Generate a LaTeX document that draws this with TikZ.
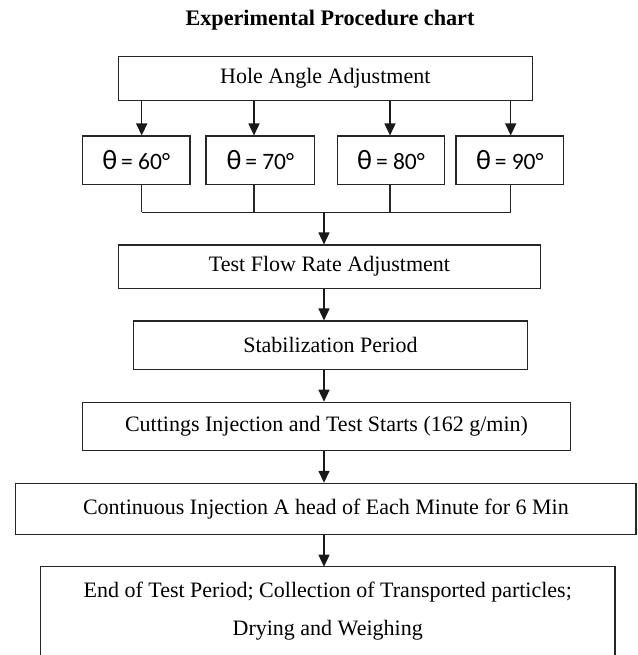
\documentclass[tikz,border=0pt]{standalone}
\usepackage{fontspec}
\setmainfont{Liberation Serif}
\newfontfamily\thetafont{Carlito}
\usetikzlibrary{arrows.meta}

\begin{document}
\begin{tikzpicture}[x=1pt,y=-1pt,
        box/.style={draw=black!85,line width=1.2pt,rectangle,inner sep=0pt,font=\fontsize{22}{38}\selectfont},
        arr/.style={draw=black!90,line width=1.5pt,-{Triangle[length=12pt,width=11pt]}}]
        \useasboundingbox (0,0) rectangle (637,655);
        \node (title) at (330,20) {\fontsize{22.2}{26}\selectfont\bfseries Experimental Procedure chart};

        \node[box,minimum width=414pt,minimum height=44pt] (hole) at (325.3,78.7) {Hole Angle Adjustment};
        \foreach \n/\x/\w/\a in {t1/136.2/107.7/60,t2/260.3/108.5/70,t3/391/107/80,t4/509.8/107.7/90}
        \node[box,minimum width=\w pt,minimum height=48.3pt,font=\thetafont\fontsize{23.5}{25}\selectfont] (\n) at (\x,160.2)
            {{\fontsize{28}{28}\selectfont θ}\,= \a°\hspace{12pt}};

        \node[box,minimum width=422.4pt,minimum height=43.3pt] (flow) at (329.5,266.7) {Test Flow Rate Adjustment};
        \node[box,minimum width=394.2pt,minimum height=48.3pt] (stab) at (330.4,345.2) {Stabilization Period};
        \node[box,minimum width=488.4pt,minimum height=48.4pt] (cut) at (326.5,426.5) {Cuttings Injection and Test Starts (162 g/min)};
        \node[box,minimum width=620.3pt,minimum height=51.2pt] (cont) at (325.9,509) {Continuous Injection A head of Each Minute for 6 Min};
        \node[box,draw=none,align=center,minimum width=573.3pt,minimum height=88pt] (final) at (327.7,611.3)
            {End of Test Period; Collection of Transported particles;\\ Drying and Weighing};
        % open at the bottom
        \draw[draw=black!85,line width=1.2pt] (final.south west) -- (final.north west) -- (final.north east) -- (final.south east);

        \coordinate (join) at (324,212.3);
        \foreach \n/\d in {t1/5.5,t2/-6.3,t3/-1,t4/0.9}{
            \draw[arr] ([xshift=\d pt]\n.north |- hole.south) -- ([xshift=\d pt]\n.north);
            \draw[draw=black!85,line width=1.2pt] ([xshift=\d pt]\n.south) -- ([xshift=\d pt]\n.south |- join);
        }
        \draw[draw=black!85,line width=1.2pt] ([xshift=5.5pt]t1.south |- join) -- ([xshift=0.9pt]t4.south |- join);
        \draw[arr] (join) -- (join |- flow.north);
        \foreach \a/\b in {flow/stab,stab/cut,cut/cont,cont/final}
        \draw[arr] (join |- \a.south) -- (join |- \b.north);
    \end{tikzpicture}
\end{document}
